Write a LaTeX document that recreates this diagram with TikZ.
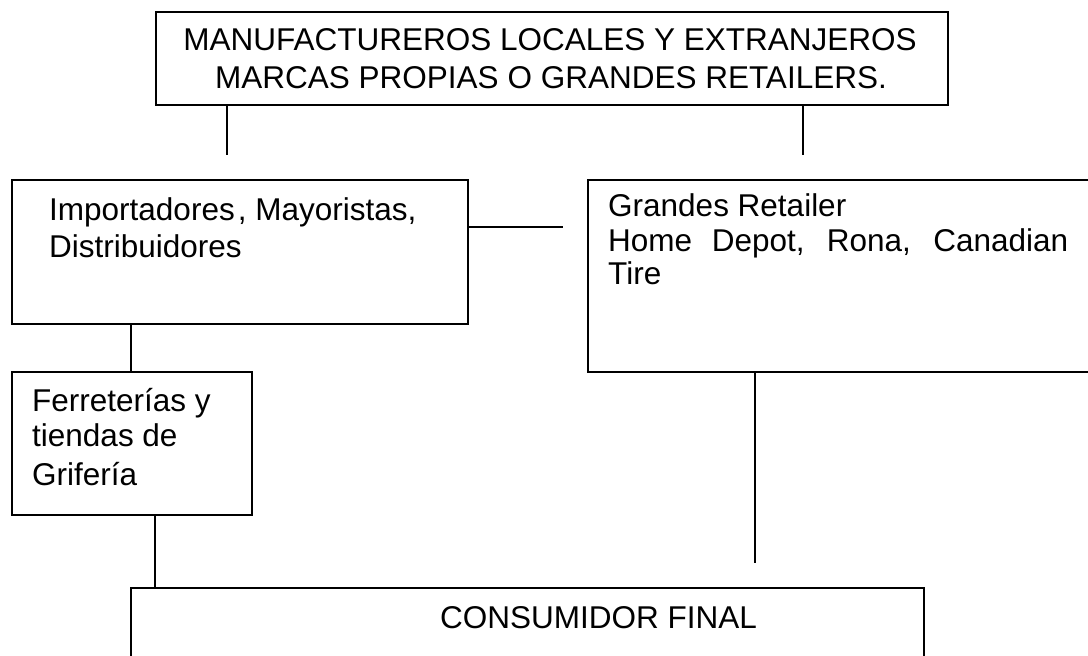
\documentclass[tikz,border=0pt]{standalone}
\usepackage{fontspec}
\setmainfont{Liberation Sans}
\begin{document}
\begin{tikzpicture}[x=1pt,y=-1pt,
  box/.style={draw, line width=1.8pt, rectangle, inner sep=0pt, anchor=north west},
  txt/.style={anchor=base west, inner sep=0pt, font=\fontsize{31.5}{36}\selectfont},
  ctxt/.style={anchor=base, inner sep=0pt, font=\fontsize{31.5}{36}\selectfont},
  link/.style={line width=1.8pt}]
\useasboundingbox (0,0) rectangle (1088,656);
\clip (0,0) rectangle (1088,656);
% boxes
\node[box, minimum width=792pt, minimum height=93pt] (top) at (155,11) {};
\node[box, minimum width=455.7pt, minimum height=143.7pt] (imp) at (11,179) {};
\node[box, minimum width=523pt, minimum height=191.7pt] (gr) at (587,179) {};
\node[box, minimum width=239.7pt, minimum height=143.3pt] (fer) at (11,371) {};
\node[box, minimum width=792.7pt, minimum height=100pt] (cons) at (130,586.7) {};
% texts
\node[ctxt] (t1) at (550,50) {MANUFACTUREROS LOCALES Y EXTRANJEROS};
\node[ctxt] (t2) at (551,88.3) {MARCAS PROPIAS O GRANDES RETAILERS.};
\node[txt] (i1) at (49,220) {Importadores\kern3pt, Mayoristas,};
\node[txt] (i2) at (49,257.3) {Distribuidores};
\node[txt] (g1) at (608,216.7) {Grandes Retailer};
\node[txt] (g2) at (608,251) {\makebox[460pt][s]{Home Depot, Rona, Canadian}};
\node[txt] (g3) at (608,284.3) {Tire};
\node[txt] (f1) at (32,411) {Ferreterías y};
\node[txt] (f2) at (32,446) {tiendas de};
\node[txt] (f3) at (32,485) {Grifería};
\node[txt] (c1) at (440,628.3) {CONSUMIDOR FINAL};
% connectors
\coordinate (l1end) at (227,155);
\draw[link] (top.south -| l1end) -- (l1end);
\coordinate (l2end) at (802.7,155);
\draw[link] (top.south -| l2end) -- (l2end);
\coordinate (l3end) at (563.3,226.7);
\draw[link] (imp.east |- l3end) -- (l3end);
\coordinate (l4) at (130.7,0);
\draw[link] (imp.south -| l4) -- (fer.north -| l4);
\coordinate (l5) at (155,0);
\draw[link] (fer.south -| l5) -- (cons.north -| l5);
\coordinate (l6end) at (755,563.3);
\draw[link] (gr.south -| l6end) -- (l6end);
\end{tikzpicture}
\end{document}
